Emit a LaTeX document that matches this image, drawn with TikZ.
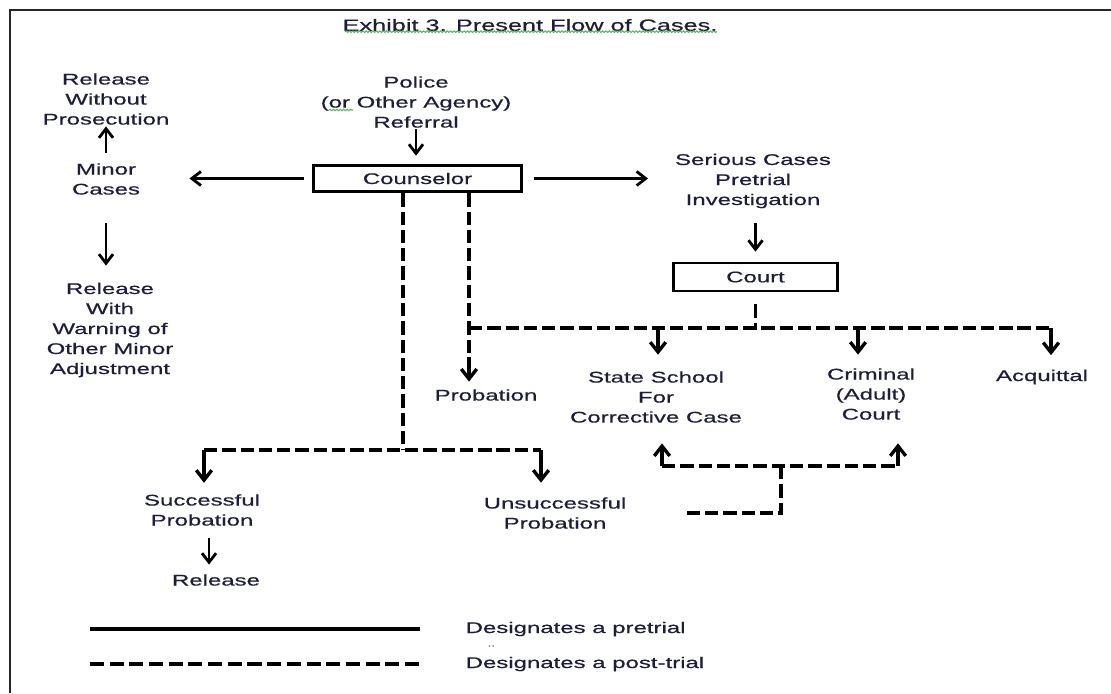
\documentclass[tikz,border=0pt]{standalone}
\usepackage{fontspec}
\setmainfont[FakeStretch=1.55,FakeBold=0.6]{Liberation Sans}
\usetikzlibrary{arrows.meta,positioning,calc,decorations.pathmorphing}
\definecolor{ink}{HTML}{1E1E3C}
\definecolor{spell}{HTML}{5DB85D}
\tikzset{
  arr/.style={-{Straight Barb[length=6.5pt,width=10pt]}, line width=2pt},
  drop/.style={-{Straight Barb[length=7pt,width=11pt]}, line width=2.4pt},
  post/.style={line width=2.8pt, dash pattern=on 9.5pt off 3.5pt},
  keyline/.style={line width=2.5pt},
  txt/.style={font=\fontsize{11}{14.23}\selectfont, text=ink, align=center, inner sep=1pt},
  squiggle/.style={spell, line width=0.8pt, decorate, decoration={snake, amplitude=0.5pt, segment length=2.4pt}},
}

\begin{document}
\begin{tikzpicture}[x=0.025cm,y=-0.025cm,
  box/.style={txt, draw=black, line width=2pt, minimum height=19pt},
  frame/.style={line width=2pt, black!85}]
\useasboundingbox (0,0) rectangle (1111,693);
\draw[frame] (1111,10) -- (10,10) -- (10,693);

% ---- title -----------------------------------------------------------------
\node[txt, font=\fontsize{11.6}{14.23}\selectfont] (title) at (530,25) {Exhibit 3. Present Flow of Cases.};
\draw[squiggle] ($(title.south west)+(4,-1)$) -- ($(title.south east)+(-2,-1)$);

% ---- pretrial row ----------------------------------------------------------
\node[txt] (police)  at (416,102) {Police\\(or Other Agency)\\Referral};
\draw[squiggle] ($(police.west)+(10,8)$) -- ($(police.west)+(34,8)$);
\node[box, minimum width=148pt] (couns) at (417.5,178.5) {Counselor};
\node[txt] (relwo)   at (106,99)  {Release\\Without\\Prosecution};
\node[txt] (minor)   at (106,179) {Minor\\Cases};
\node[txt] (relw)    at (110,330) {Release\\With\\Warning of\\Other Minor\\Adjustment};
\node[txt] (serious) at (753,181) {Serious Cases\\Pretrial\\Investigation};
\node[box, minimum width=117pt, minimum height=20pt] (court) at (755.5,277) {Court};

% ---- outcomes --------------------------------------------------------------
\node[txt] (prob)   at (486,395) {Probation};
\node[txt] (school) at (656,397) {State School\\For\\Corrective Case};
\node[txt] (crim)   at (871,394) {Criminal\\(Adult)\\Court};
\node[txt] (acq)    at (1042,377) {Acquittal};
\node[txt] (succ)   at (202,510) {Successful\\Probation};
\node[txt] (rel)    at (216,580) {Release};
\node[txt] (unsucc) at (555,513) {Unsuccessful\\Probation};

% ---- pretrial flow ---------------------------------------------------------
\draw[arr, shorten >=5.7pt] (police.south) -- (police.south |- couns.north);
\draw[arr, shorten <=6pt, shorten >=34pt] (couns.west) -- (couns.west -| minor.east);
\draw[arr, shorten <=8pt, shorten >=18pt] (couns.east) -- (couns.east -| serious.west);
\draw[arr] ([yshift=6pt]minor.north) -- (relwo.south);
\draw[arr, shorten <=19pt, shorten >=11pt] (minor.south) -- (minor.south |- relw.north);
\draw[arr, shorten <=9pt, shorten >=7pt] (serious.south -| court.north) -- (court.north);

% ---- post-trial flow -------------------------------------------------------
\coordinate (bus)  at (469,328);
\coordinate (busE) at (1051,328);
\coordinate (dA)   at (658,328);
\coordinate (dB)   at (858,328);
\coordinate (pstem) at (469,357);
\draw[post] ([yshift=-8.5pt]court.south) -- (court.south |- bus);
\draw[post] (bus) -- (busE);
\draw[post] (couns.south -| bus) -- (pstem);
\draw[drop, shorten >=4.3pt] (pstem) -- (pstem |- prob.north);
\draw[drop, shorten >=10.6pt] (dA) -- (dA |- school.north);
\draw[drop, shorten >=8.5pt] (dB) -- (dB |- crim.north);
\draw[drop, shorten >=9.2pt] (busE) -- (busE |- acq.north);

\coordinate (sj) at (403,450);
\coordinate (sL) at (204,450);
\coordinate (sR) at (541,450);
\draw[post] (couns.south -| sj) -- (sj);
\draw[post] (sL) -- (sR);
\draw[drop, shorten >=7pt] (sL) -- (sL |- succ.north);
\draw[drop, shorten >=9.2pt] (sR) -- (sR |- unsucc.north);
\draw[arr, shorten <=7.8pt, shorten >=5.7pt] ([xshift=5pt]succ.south) -- ([xshift=5pt]succ.south |- rel.north);

\coordinate (uL) at (662,466);
\coordinate (uR) at (898,466);
\coordinate (uM) at (781,466);
\coordinate (uB) at (781,513);
\coordinate (loose) at (685,513);
\draw[post] (uL) -- (uR);
\draw[post] (uM) -- (uB) -- (loose);
\draw[drop, shorten >=13.5pt] (uL) -- (uL |- school.south);
\draw[drop, shorten >=15.6pt] (uR) -- (uR |- crim.south);

% ---- legend ----------------------------------------------------------------
\node[txt, anchor=west] (lpre)  at (464,629) {Designates a pretrial};
\node[txt, anchor=west, font=\fontsize{6}{7}\selectfont] (lcut) at (486,646) {..};
\node[txt, anchor=west] (lpost) at (464,664) {Designates a post-trial};
\draw[keyline] ([xshift=-266pt]lpre.west) -- ([xshift=-31pt]lpre.west);
\draw[keyline, dash pattern=on 10pt off 4pt] ([xshift=-266pt]lpost.west) -- ([xshift=-31pt]lpost.west);

\end{tikzpicture}
\end{document}
